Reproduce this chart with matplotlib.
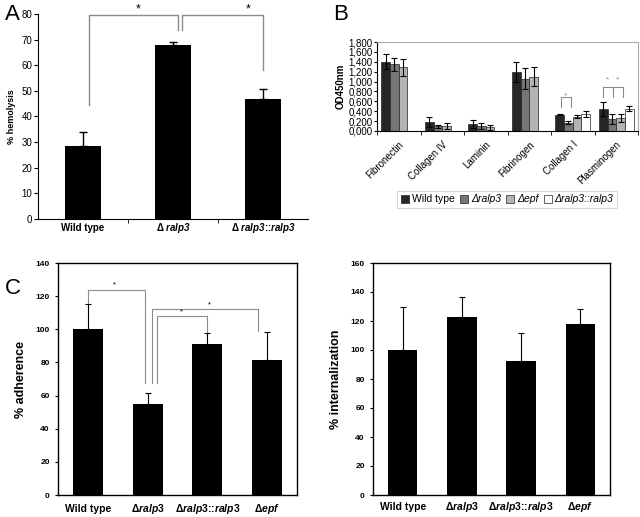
import numpy as np
import matplotlib.pyplot as plt
from matplotlib.patches import Patch

plt.rcParams['font.family'] = ['Liberation Sans', 'DejaVu Sans']
plt.rcParams['mathtext.fontset'] = 'custom'
plt.rcParams['mathtext.rm'] = 'Liberation Sans'
plt.rcParams['mathtext.it'] = 'Liberation Sans:italic'
plt.rcParams['mathtext.bf'] = 'Liberation Sans:bold'
plt.rcParams['mathtext.bfit'] = 'Liberation Sans:italic:bold'

# ---- panel A: hemolysis
hemoLabels = ["Wild type", r"Δ $\mathbfit{ralp3}$", r"Δ $\mathbfit{ralp3}$::$\mathbfit{ralp3}$"]
hemoMean = [28.3, 67.8, 46.8]
hemoErr = [5.5, 1.2, 3.8]

# ---- panel B: binding to ECM proteins (OD450nm)
ecmLabels = ["Fibronectin", "Collagen IV", "Laminin", "Fibrinogen", "Collagen I", "Plasminogen"]
strainNames = ["Wild type", "Δralp3", "Δepf", "Δralp3::ralp3"]
odWT = [1.40, 0.18, 0.15, 1.19, 0.33, 0.44]
odWTerr = [0.15, 0.10, 0.08, 0.20, 0.01, 0.14]
odRalp = [1.35, 0.10, 0.11, 1.06, 0.17, 0.24]
odRalpErr = [0.13, 0.03, 0.06, 0.22, 0.03, 0.10]
odEpf = [1.29, 0.11, 0.08, 1.10, 0.29, 0.27]
odEpfErr = [0.17, 0.06, 0.05, 0.19, 0.03, 0.08]
odComp = [np.nan, np.nan, np.nan, np.nan, 0.35, 0.45]
odCompErr = [np.nan, np.nan, np.nan, np.nan, 0.06, 0.05]

# ---- panel C: adherence / internalization
cellLabels = ["Wild type", r"Δ$\mathbfit{ralp}$3", r"Δ$\mathbfit{ralp}$3::$\mathbfit{ralp}$3", r"Δ$\mathbfit{epf}$"]
adhMean = [100, 55, 91, 81.5]
adhErr = [15, 6.5, 7, 17]
intMean = [100, 123, 92.5, 118]
intErr = [30, 13.5, 19.5, 10]

W, H = 640, 517
fig = plt.figure(figsize=(W/100, H/100), dpi=100)

def px(left, top, right, bottom):
  return [left/W, 1-bottom/H, (right-left)/W, (bottom-top)/H]

def baselineLabels(ax, labels, yAxes, size):
  # category labels on a common baseline (mathtext shifts top-aligned labels)
  ax.set_xticks(np.arange(len(labels)))
  ax.set_xticklabels([])
  for i, lab in enumerate(labels):
    ax.text(i, yAxes, lab, transform=ax.get_xaxis_transform(), ha='center', va='baseline',
      fontsize=size, fontweight='bold', clip_on=False)

gray = '#8c8c8c'

## panel A
axA = fig.add_axes(px(38, 14, 308, 219))
xA = np.arange(len(hemoMean))
axA.bar(xA, hemoMean, width=0.41, color='black', zorder=2)
axA.errorbar(xA, hemoMean, yerr=[np.zeros(3), hemoErr], fmt='none', ecolor='black',
  elinewidth=1, capsize=3, capthick=1, zorder=3)
axA.set_xlim(-0.5, 2.5)
axA.set_ylim(0, 80)
axA.set_yticks(np.arange(0, 81, 10))
baselineLabels(axA, hemoLabels, -0.06, 7)
axA.set_xticks([0.5, 1.5], minor=True)
axA.tick_params(axis='x', which='major', length=0)
axA.tick_params(axis='x', which='minor', length=3, direction='out')
axA.tick_params(axis='y', labelsize=7, length=3, direction='out', pad=1)
axA.spines[['top', 'right']].set_visible(False)
axA.set_ylabel("% hemolysis", fontsize=6.5, fontweight='bold', labelpad=4)
# brackets
axA.plot([0.07, 0.07, 1.06, 1.06], [44.5, 79.5, 79.5, 73.8], color=gray, lw=1, clip_on=False)
axA.plot([1.1, 1.1, 2.0, 2.0], [73.8, 79.5, 79.5, 58], color=gray, lw=1, clip_on=False)
axA.text(0.61, 79.5, "*", ha='center', va='bottom', fontsize=9, clip_on=False)
axA.text(1.83, 79.5, "*", ha='center', va='bottom', fontsize=9, clip_on=False)

## panel B
axB = fig.add_axes(px(377, 42, 638, 131))
xB = np.arange(len(ecmLabels))
bw = 0.2
series = [(odWT, odWTerr, '#262626'), (odRalp, odRalpErr, '#767676'),
  (odEpf, odEpfErr, '#b4b4b4'), (odComp, odCompErr, 'white')]
for i, (vals, errs, col) in enumerate(series):
  pos = xB + (i-1.5)*bw
  axB.bar(pos, vals, width=bw, color=col, edgecolor='#222222', linewidth=0.5, zorder=2)
  axB.errorbar(pos, vals, yerr=errs, fmt='none', ecolor='black', elinewidth=0.8,
    capsize=2.2, capthick=0.8, zorder=3)
axB.set_xlim(-0.5, 5.5)
axB.set_ylim(0, 1.8)
axB.set_yticks(np.arange(0, 1.81, 0.2))
axB.set_yticklabels([f"{v:.3f}".replace('.', ',') for v in np.arange(0, 1.81, 0.2)])
axB.set_xticks(xB)
axB.set_xticklabels(ecmLabels, rotation=45, ha='right', rotation_mode='anchor')
axB.set_xticks(np.arange(-0.5, 5.6, 1), minor=True)
axB.tick_params(axis='x', which='major', length=0, labelsize=7, pad=6)
axB.tick_params(axis='x', which='minor', length=3, direction='out')
axB.tick_params(axis='y', labelsize=7, length=2, direction='out', pad=1)
axB.spines['top'].set_color('#aaaaaa')
axB.spines['right'].set_color('#aaaaaa')
axB.set_ylabel("OD450nm", fontsize=7, fontweight='bold', labelpad=2)
# brackets
axB.plot([3.72, 3.72, 3.96, 3.96], [0.49, 0.69, 0.69, 0.49], color=gray, lw=0.8)
axB.text(3.84, 0.72, "*", ha='center', va='center', fontsize=6, color=gray)
axB.plot([4.69, 4.69], [0.69, 0.89], color=gray, lw=0.8)
axB.plot([4.92, 4.92], [0.69, 0.89], color=gray, lw=0.8)
axB.plot([5.15, 5.15], [0.69, 0.89], color=gray, lw=0.8)
axB.plot([4.69, 5.15], [0.89, 0.89], color=gray, lw=0.8)
axB.text(4.8, 1.04, "*", ha='center', va='center', fontsize=6, color=gray)
axB.text(5.03, 1.04, "*", ha='center', va='center', fontsize=6, color=gray)
handles = [Patch(facecolor=c, edgecolor='#222222', linewidth=0.5) for _, _, c in series]
leg = fig.legend(handles, strainNames, loc='center', bbox_to_anchor=(507/W, 1-199.5/H),
  ncol=4, fontsize=7.5, handlelength=0.8, handleheight=0.8, handletextpad=0.25,
  columnspacing=0.5, borderpad=0.35, frameon=True, fancybox=False, borderaxespad=0)
leg.get_frame().set_edgecolor('#cccccc')
leg.get_frame().set_linewidth(0.8)
for t in leg.get_texts()[1:]:
  t.set_fontstyle('italic')

## panel C
def cellPanel(ax, mean, err, ymax, ylabel, labelY):
  x = np.arange(len(mean))
  ax.bar(x, mean, width=0.5, color='black', zorder=2)
  ax.errorbar(x, mean, yerr=[np.zeros(len(mean)), err], fmt='none', ecolor='black',
    elinewidth=0.8, capsize=2.5, capthick=0.8, zorder=3)
  ax.set_xlim(-0.5, 3.5)
  ax.set_ylim(0, ymax)
  ax.set_yticks(np.arange(0, ymax+1, 20))
  baselineLabels(ax, cellLabels, labelY, 7.5)
  ax.tick_params(axis='x', length=0)
  ax.tick_params(axis='y', length=2.5, direction='out', labelsize=6)
  for lbl in ax.get_yticklabels():
    lbl.set_fontweight('bold')
  for s in ax.spines.values():
    s.set_linewidth(1)
  ax.set_ylabel(ylabel, fontsize=9, fontweight='bold', labelpad=6)

axC1 = fig.add_axes(px(58, 263, 297, 495))
cellPanel(axC1, adhMean, adhErr, 140, "% adherence", -0.072)
axC1.plot([0.0, 0.0, 0.95, 0.95], [116, 124, 124, 67.5], color=gray, lw=0.8)
axC1.plot([1.07, 1.07, 2.85, 2.85], [67.5, 112, 112, 99], color=gray, lw=0.8)
axC1.plot([1.15, 1.15, 2.0, 2.0], [67.5, 108, 108, 98.5], color=gray, lw=0.8)
axC1.text(0.45, 124.5, "*", ha='center', va='bottom', fontsize=5.5)
axC1.text(1.56, 108.5, "*", ha='center', va='bottom', fontsize=5.5)
axC1.text(2.03, 112.5, "*", ha='center', va='bottom', fontsize=5.5)

axC2 = fig.add_axes(px(373, 263, 610, 495))
cellPanel(axC2, intMean, intErr, 160, "% internalization", -0.064)

fig.text(5/W, 1-15/H, "A", fontsize=16, va='center', ha='left')
fig.text(333/W, 1-15/H, "B", fontsize=16, va='center', ha='left')
fig.text(5/W, 1-288/H, "C", fontsize=16, va='center', ha='left')

fig.savefig("out.png", dpi=100)
